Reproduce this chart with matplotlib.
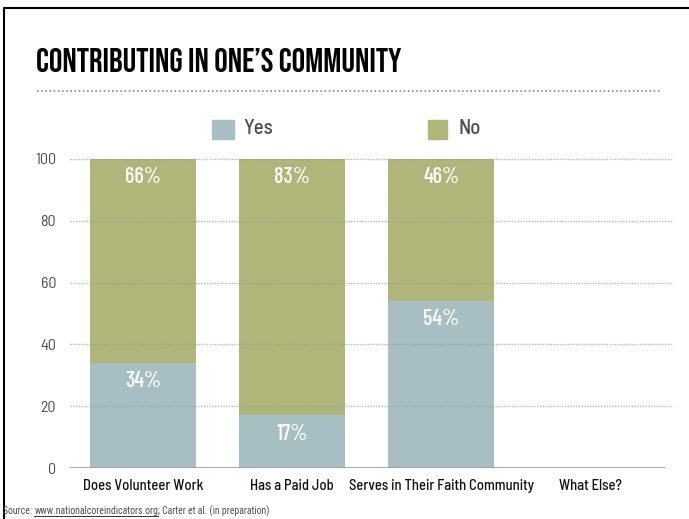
import matplotlib
matplotlib.use("Agg")
import matplotlib.pyplot as plt
from matplotlib import font_manager as fm
from matplotlib.patches import Rectangle
from matplotlib.lines import Line2D
from matplotlib.textpath import TextPath
import os

categories = ["Does Volunteer Work", "Has a Paid Job", "Serves in Their Faith Community", "What Else?"]
yes_vals = [34, 17, 54, None]
no_vals = [66, 83, 46, None]
yticks = [0, 20, 40, 60, 80, 100]
title = "CONTRIBUTING IN ONE\u2019S COMMUNITY"
source = "Source: "
source_url = "www.nationalcoreindicators.org"
source_rest = "; Carter et al. (in preparation)"

allfiles = [f.fname for f in fm.fontManager.ttflist]
for d in ["/usr/share/fonts", "/usr/local/share/fonts"]:
    for root, _, fs in os.walk(d):
        for f in fs:
            if f.lower().endswith((".ttf", ".otf")):
                allfiles.append(os.path.join(root, f))


def find(names):
    for n in names:
        for f in allfiles:
            if os.path.basename(f).lower() == n.lower():
                return f
    return None


def find_all(names):
    out = []
    for n in names:
        f = find([n])
        if f:
            out.append(f)
    return out

num_file = find(["BarlowCondensed-Medium.ttf", "RobotoCondensed-Regular.ttf"])
tick_file = find(["BarlowSemiCondensed-Regular.ttf", "BarlowCondensed-Regular.ttf", "RobotoCondensed-Regular.ttf"])
cat_file = find(["BarlowSemiCondensed-Medium.ttf", "BarlowCondensed-Medium.ttf", "RobotoCondensed-Medium.ttf"])
leg_file = find(["BarlowSemiCondensed-Medium.ttf", "BarlowCondensed-Medium.ttf", "RobotoCondensed-Regular.ttf"])
src_file = find(["RobotoCondensed-Regular.ttf", "BarlowSemiCondensed-Regular.ttf"])


def fp(fname, size):
    if fname:
        return fm.FontProperties(fname=fname, size=size)
    return fm.FontProperties(family="DejaVu Sans", size=size)

# choose the title font whose cap height best matches when fit to the target width
TARGET_W = 365.0   # px
TARGET_CAP = 25.0  # px
title_cands = find_all(["BarlowCondensed-Bold.ttf", "BarlowCondensed-SemiBold.ttf",
                        "FiraSansExtraCondensed-Bold.ttf", "FiraSansExtraCondensed-SemiBold.ttf",
                        "BebasNeue-Regular.ttf", "SairaExtraCondensed-Bold.ttf",
                        "SairaCondensed-Bold.ttf", "AsapCondensed-Bold.ttf",
                        "EncodeSansCondensed-Bold.ttf", "ArchivoNarrow-Bold.ttf",
                        "PTSansNarrow-Bold.ttf", "RobotoCondensed-Bold.ttf"])
best = None
for f in title_cands:
    try:
        p = fm.FontProperties(fname=f, size=25)
        w = TextPath((0, 0), title, prop=p).get_extents().width * 100 / 72
        c = TextPath((0, 0), "H", prop=p).get_extents().height * 100 / 72
        s = 25 * TARGET_W / w
        cap = c * s / 25
        score = abs(cap - TARGET_CAP)
        if best is None or score < best[0]:
            best = (score, f, s)
    except Exception:
        pass
if best:
    title_file, title_size = best[1], best[2]
else:
    title_file, title_size = None, 20

YES_C = "#a7bfc3"
NO_C = "#b0b67a"
GRAY = "#4d4d4d"

W, H = 689, 519
fig = plt.figure(figsize=(W / 100, H / 100), dpi=100)


def fx(px):
    return px / W


def fy(py):
    return 1 - py / H

ax = fig.add_axes([fx(70), fy(468), fx(665) - fx(70), fy(159) - fy(468)])

xs = list(range(len(categories)))
bw = 0.71
for i, (y, n) in enumerate(zip(yes_vals, no_vals)):
    if y is None:
        continue
    ax.bar(i, y, width=bw, color=YES_C, zorder=1)
    ax.bar(i, n, width=bw, bottom=y, color=NO_C, zorder=1)
    ax.annotate(f"{y}%", (i, y), xytext=(0, -13), textcoords="offset points",
                ha="center", va="center", color="white",
                fontproperties=fp(num_file, 16), zorder=3)
    ax.annotate(f"{n}%", (i, y + n), xytext=(0, -13), textcoords="offset points",
                ha="center", va="center", color="white",
                fontproperties=fp(num_file, 16), zorder=3)

for t in yticks[1:]:
    ax.axhline(t, xmin=0, xmax=1.013, color="#9a9a9a", lw=1.0, ls=(0, (1, 1)),
               zorder=2, alpha=0.7, clip_on=False)
ax.axhline(0, color="#999999", lw=1.2, zorder=2)

ax.set_xlim(-0.49, 3.5)
ax.set_ylim(0, 100)
ax.set_yticks(yticks)
ax.set_yticklabels([str(t) for t in yticks], fontproperties=fp(tick_file, 11.5), color=GRAY)
ax.set_xticks(xs)
ax.set_xticklabels(categories, fontproperties=fp(cat_file, 10.5), color="#111111")
ax.tick_params(axis="both", length=0)
ax.tick_params(axis="y", pad=10)
ax.tick_params(axis="x", pad=8)
for s in ax.spines.values():
    s.set_visible(False)

# Title
fig.text(fx(36), fy(72), title, fontproperties=fp(title_file, title_size),
         color="black", ha="left", va="baseline")
fig.add_artist(Line2D([fx(37), fx(660)], [fy(91), fy(91)], color="#888888",
                      lw=1.2, ls=(0, (1, 1.5))))

# Legend
fig.add_artist(Rectangle((fx(212), fy(139)), fx(234) - fx(212), fy(120) - fy(139),
                         color=YES_C, transform=fig.transFigure))
fig.text(fx(243), fy(129), "Yes", fontproperties=fp(leg_file, 15), color=GRAY,
         ha="left", va="center")
fig.add_artist(Rectangle((fx(428), fy(139)), fx(447) - fx(428), fy(120) - fy(139),
                         color=NO_C, transform=fig.transFigure))
fig.text(fx(458), fy(129), "No", fontproperties=fp(leg_file, 15), color=GRAY,
         ha="left", va="center")

# Source
sfp = fp(src_file, 7)
t1 = fig.text(fx(3), fy(514), source, fontproperties=sfp, color=GRAY,
              ha="left", va="baseline")
fig.canvas.draw()
r = fig.canvas.get_renderer()
bb = t1.get_window_extent(r)
t2 = fig.text(bb.x1 / W, fy(514), source_url, fontproperties=sfp,
              color=GRAY, ha="left", va="baseline")
bb2 = t2.get_window_extent(r)
fig.add_artist(Line2D([bb2.x0 / W, bb2.x1 / W], [fy(515.5), fy(515.5)],
                      color="#333333", lw=0.7))
fig.text(bb2.x1 / W, fy(514), source_rest, fontproperties=sfp,
         color=GRAY, ha="left", va="baseline")

# Border
fig.add_artist(Line2D([fx(4), fx(4), 1.0], [0.0, fy(8), fy(8)], color="black", lw=1.5))

fig.savefig("out.png", dpi=100)
